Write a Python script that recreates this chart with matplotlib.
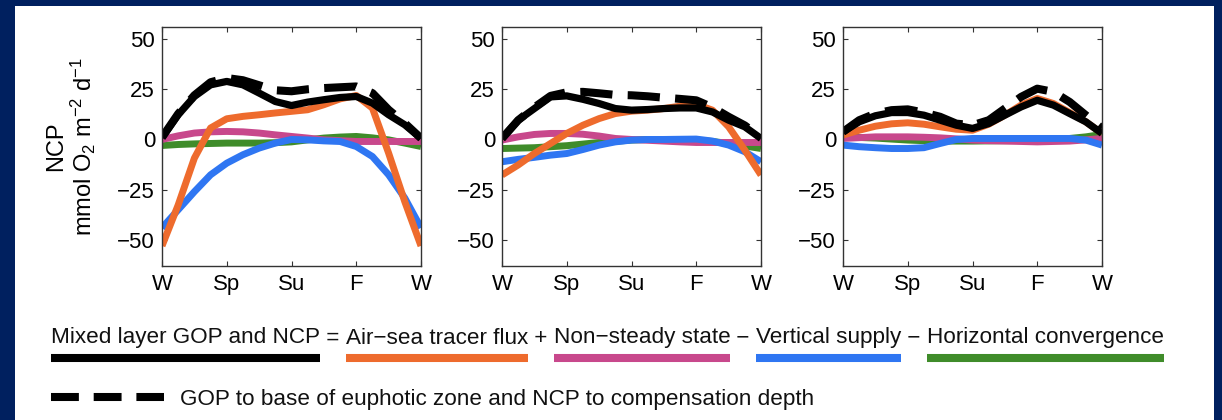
import numpy as np
import matplotlib
matplotlib.use('Agg')
import matplotlib.pyplot as plt
from matplotlib.lines import Line2D
from matplotlib.patches import Rectangle

plt.rcParams['font.family'] = ['Liberation Sans', 'DejaVu Sans']
plt.rcParams['mathtext.fontset'] = 'custom'
plt.rcParams['mathtext.rm'] = 'Liberation Sans'
plt.rcParams['mathtext.it'] = 'Liberation Sans'

# estaciones (posicion en el año) y etiquetas
estaciones = [0, 0.25, 0.5, 0.75, 1, 1.25, 1.5, 1.75, 2, 2.25, 2.5, 2.75, 3, 3.25, 3.5, 3.75, 4]
etiquetas_x = ['W', 'Sp', 'Su', 'F', 'W']
ticks_y = [-50, -25, 0, 25, 50]

# panel 1
p1_mixta = [1, 12.3, 21.4, 27.2, 28.9, 27.2, 23.1, 18.9, 16.9, 18.6, 19.8, 20.9, 21.4, 18.1, 12.3, 7.3, 0.6]
p1_eufotica = [1, 12.8, 22, 28.5, 30.6, 29.5, 27, 24.5, 24, 25, 25.6, 26, 26.4, 23.1, 14.8, 8.1, 0.6]
p1_aire_mar = [-53, -32.6, -9.3, 5.7, 10.3, 11.5, 12.3, 13.2, 14, 14.8, 17.3, 20.2, 21.9, 15.6, -6.8, -31, -53]
p1_no_estac = [0, 1.8, 3.2, 3.8, 4, 3.8, 3.2, 2.3, 1.5, 0.7, -0.2, -0.6, -1, -1, -1, -1, -1]
p1_vertical = [-44, -35, -26, -17.6, -11.8, -7.6, -4.3, -1.8, 0, -0.2, -0.7, -1, -3.5, -8.5, -17.6, -29.2, -44]
p1_horizontal = [-3, -2.5, -2.2, -2, -1.8, -1.8, -1.8, -1.6, -1.2, -0.2, 0.7, 1.2, 1.5, 0.8, -0.2, -1.8, -3.5]

# panel 2
p2_mixta = [0.5, 9.6, 15.4, 21.2, 21.7, 20, 17.9, 15.4, 14.6, 14.9, 15.4, 15.7, 15.7, 13.7, 9.6, 6.3, 0.5]
p2_eufotica = [0.5, 9.6, 16, 21.7, 23.5, 23.7, 23, 22.2, 22, 21.5, 20.8, 20.2, 19.5, 16, 11.3, 7, 1]
p2_aire_mar = [-17.7, -12.7, -7, -2, 3, 7.1, 10.4, 12.9, 14.1, 14.6, 15.4, 16.6, 17.5, 14.6, 6.3, -5.3, -17.7]
p2_no_estac = [-0.3, 1.3, 2.5, 3, 3, 2.6, 1.7, 0.5, 0, -0.4, -0.8, -1.2, -1.5, -1.5, -1.5, -1.5, -1.5]
p2_vertical = [-11.1, -9.9, -8.9, -7.8, -7, -5, -2.8, -1.2, -0.3, 0, 0, 0.1, 0.2, -0.8, -2.8, -6.1, -11.1]
p2_horizontal = [-4.5, -4.3, -4.1, -3.6, -3.1, -2.3, -1.5, -0.9, -0.3, 0, 0, -0.1, -0.3, -1, -2, -3.2, -4.5]

# panel 3
p3_mixta = [3.8, 8.8, 11.8, 13.4, 13.4, 12.1, 9.6, 7.1, 5.5, 7.9, 12.1, 16.2, 19.5, 17.1, 12.9, 8.8, 3]
p3_eufotica = [3.8, 9.6, 12.9, 14.6, 15, 13.4, 11.3, 7.9, 7.1, 9.6, 15.4, 21.2, 25.3, 23.7, 18.7, 12.1, 5.5]
p3_aire_mar = [2.2, 4.6, 6.6, 7.8, 8.3, 7.6, 6.3, 5.1, 4.6, 7.6, 12.1, 17.1, 20.4, 17.9, 13.4, 8.8, 3]
p3_no_estac = [0.5, 0.9, 1.3, 1.3, 1.3, 1.1, 0.8, 0.3, -0.3, -0.6, -0.8, -1, -1.2, -1, -0.8, -0.2, 0.5]
p3_vertical = [-2.8, -3.6, -4.1, -4.5, -4.5, -4.1, -2, 0, 0.5, 0.5, 0.5, 0.5, 0.5, 0.5, 0.5, -0.3, -2.8]
p3_horizontal = [1.3, 1, 0.7, 0.2, -0.3, -0.6, -0.8, -0.8, -0.8, -0.7, -0.6, -0.5, -0.3, 0, 0.5, 1.3, 2.5]

paneles = [
    (p1_mixta, p1_eufotica, p1_aire_mar, p1_no_estac, p1_vertical, p1_horizontal),
    (p2_mixta, p2_eufotica, p2_aire_mar, p2_no_estac, p2_vertical, p2_horizontal),
    (p3_mixta, p3_eufotica, p3_aire_mar, p3_no_estac, p3_vertical, p3_horizontal),
]

NAVY = '#00205f'
NEGRO = '#000000'
NARANJA = '#ee6b2d'
ROSA = '#c8488c'
AZUL = '#2f76f2'
VERDE = '#3f8c2a'

W, H = 1222, 420
fig = plt.figure(figsize=(W / 100, H / 100), dpi=100, facecolor=NAVY)
fig.patches.append(Rectangle((15 / W, 0), (1214 - 15) / W, (420 - 6) / H,
                             transform=fig.transFigure, facecolor='white',
                             edgecolor='none', zorder=-5))

izquierdas = [162, 502, 843]
for k, (mixta, eufotica, aire_mar, no_estac, vertical, horizontal) in enumerate(paneles):
    ax = fig.add_axes([izquierdas[k] / W, 1 - 266 / H, 259 / W, 239 / H])
    ax.plot(estaciones, horizontal, color=VERDE, lw=5, solid_capstyle='butt', solid_joinstyle='round')
    ax.plot(estaciones, no_estac, color=ROSA, lw=5, solid_capstyle='butt', solid_joinstyle='round')
    ax.plot(estaciones, vertical, color=AZUL, lw=5, solid_capstyle='butt', solid_joinstyle='round')
    ax.plot(estaciones, aire_mar, color=NARANJA, lw=5, solid_capstyle='butt', solid_joinstyle='round')
    ax.plot(estaciones, mixta, color=NEGRO, lw=5.2, solid_capstyle='butt', solid_joinstyle='round')
    ax.plot(estaciones, eufotica, color=NEGRO, lw=5.8, dashes=(4.0, 1.9),
            dash_capstyle='butt')
    ax.set_xlim(0, 4)
    ax.set_ylim(-63, 56)
    ax.set_xticks(range(5))
    ax.set_xticklabels(etiquetas_x)
    ax.set_yticks(ticks_y)
    ax.tick_params(direction='in', top=True, right=True, length=3.5, width=0.8,
                   labelsize=16, color='#333333')
    ax.tick_params(axis='x', pad=6)
    ax.tick_params(axis='y', pad=5)
    for s in ax.spines.values():
        s.set_linewidth(1)
        s.set_color('#333333')
    if k == 0:
        ax.set_ylabel('NCP\nmmol O$_2$ m$^{-2}$ d$^{-1}$', fontsize=17,
                      linespacing=1.05, labelpad=14)

# leyenda tipo ecuacion
renderer = fig.canvas.get_renderer()
piezas = [
    ('Mixed layer GOP and NCP', NEGRO),
    (' = ', None),
    ('Air\u2212sea tracer flux', NARANJA),
    (' + ', None),
    ('Non\u2212steady state', ROSA),
    (' \u2212 ', None),
    ('Vertical supply', AZUL),
    (' \u2212 ', None),
    ('Horizontal convergence', VERDE),
]
x = 51 / W
y_texto = 1 - 343.5 / H
y_barra = 1 - 358 / H
for texto, color in piezas:
    t = fig.text(x, y_texto, texto, fontsize=16.2, va='baseline', ha='left', color='#111111')
    bb = t.get_window_extent(renderer)
    if color is not None:
        fig.add_artist(Line2D([bb.x0 / W, bb.x1 / W], [y_barra, y_barra],
                              transform=fig.transFigure, color=color, lw=5.8,
                              solid_capstyle='butt'))
    x = bb.x1 / W

y2 = 1 - 397 / H
fig.add_artist(Line2D([51 / W, 164 / W], [y2, y2], transform=fig.transFigure,
                      color=NEGRO, lw=5.8, dashes=(3.46, 1.84), dash_capstyle='butt'))
fig.text(180 / W, 1 - 404.5 / H, 'GOP to base of euphotic zone and NCP to compensation depth',
         fontsize=16.2, va='baseline', ha='left', color='#111111')

fig.savefig('out.png', dpi=100, facecolor=NAVY)
